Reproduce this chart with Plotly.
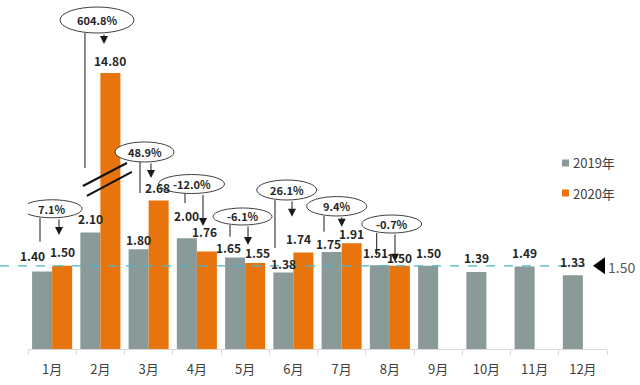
import plotly.graph_objects as go

# ---------------- data ----------------
months = ["1月", "2月", "3月", "4月", "5月", "6月", "7月", "8月", "9月", "10月", "11月", "12月"]
v2019 = [1.40, 2.10, 1.80, 2.00, 1.65, 1.38, 1.75, 1.51, 1.50, 1.39, 1.49, 1.33]
v2020 = [1.50, 14.80, 2.68, 1.76, 1.55, 1.74, 1.91, 1.50, None, None, None, None]
yoy = ["7.1%", "604.8%", "48.9%", "-12.0%", "-6.1%", "26.1%", "9.4%", "-0.7%"]
series_names = ["2019年", "2020年"]
ref_value = 1.50
ref_label = "1.50"

# ---------------- styles / geometry ----------------
GRAY = "#8A9A98"
ORANGE = "#E8740D"
TEXT = "#262626"
FONT = "Noto Sans CJK SC"
W, H = 640, 385
ML, MR, MT, MB = 28, 33, 0, 36
PLOT_W = W - ML - MR
PLOT_H = H - MT - MB
BAR_H = 276                      # pixel height of the (broken) bar axis
Y_TOP = 4.98                     # visible top of the broken axis
SCALE = BAR_H / Y_TOP            # px per unit
Y2_TOP = PLOT_H / SCALE          # overlay axis for call-outs (same scale)
BARGAP = 0.17
OFF = (1 - BARGAP) / 4           # centre offset of each bar in a group

# call-out placement (axis units; ellipse radii in px)
ell_x = [0.0, 0.93, 1.915, 2.889, 3.946, 4.862, 5.898, 7.038]
ell_y = [2.53, 5.936, 3.555, 2.977, 2.391, 2.869, 2.575, 2.255]
ell_rx = [30, 37, 29.5, 33, 29.5, 30, 30, 30]
ell_ry = [9, 13, 10, 9.5, 8.5, 10, 9.7, 9]
line_x = [-0.251, 0.681, 1.821, 2.754, 3.687, 4.619, 5.635, 6.727]
line_end = [1.936, 3.266, 2.815, 2.634, 2.026, 1.822, 2.117, 1.696]
arrow_x = [0.142, 1.075, 2.049, 3.127, 4.060, 4.972, 6.002, 7.106]
arrow_end = [2.057, 5.503, 3.086, 2.219, 1.877, 2.387, 2.207, 1.575]
# value label offsets (px)
off19 = [(-10, 16), (0, 14), (0, 10), (0, 23), (-7, 10), (0, 9.5), (-3, 9), (-4, 12.6),
         (0, 13), (0, 14), (0, 14), (0, 14)]
off20 = [(0, 14), (0, 13), (-1, 12.5), (-2, 19.5), (2.6, 10.4), (-5, 13.6), (0, 10), (0, 8)]

fig = go.Figure()
fig.add_trace(go.Bar(x=months, y=v2019, name=series_names[0], marker_color=GRAY,
                     marker_line_width=0, showlegend=False))
fig.add_trace(go.Bar(x=months, y=v2020, name=series_names[1], marker_color=ORANGE,
                     marker_line_width=0, showlegend=False))
# helper trace so the full-height overlay subplot exists
fig.add_trace(go.Scatter(x=[months[0]], y=[None], yaxis="y2", showlegend=False,
                         hoverinfo="skip", mode="markers"))

ann = []
shapes = []

# value labels
for i, v in enumerate(v2019):
    dx, dy = off19[i]
    ann.append(dict(x=i - OFF, y=min(v, Y_TOP), xref="x", yref="y2", text=f"<b>{v:.2f}</b>",
                    showarrow=False, xshift=dx, yshift=dy, yanchor="middle",
                    font=dict(size=12, color=TEXT, family=FONT)))
for i, v in enumerate(v2020):
    if v is None:
        continue
    dx, dy = off20[i]
    ann.append(dict(x=i + OFF, y=min(v, Y_TOP), xref="x", yref="y2", text=f"<b>{v:.2f}</b>",
                    showarrow=False, xshift=dx, yshift=dy, yanchor="middle",
                    font=dict(size=12, color=TEXT, family=FONT)))

# call-outs
for k, t in enumerate(yoy):
    top = ell_y[k] - ell_ry[k] / SCALE
    shapes.append(dict(type="line", xref="x", yref="y2", x0=line_x[k], x1=line_x[k],
                       y0=top, y1=line_end[k], line=dict(color="#1a1a1a", width=1), layer="above"))
    ann.append(dict(x=arrow_x[k], y=arrow_end[k], ax=arrow_x[k], ay=top, xref="x", yref="y2",
                    axref="x", ayref="y2", text="", showarrow=True, arrowhead=2, arrowsize=1.6,
                    arrowwidth=1, arrowcolor="#1a1a1a", standoff=0, startstandoff=0))
    shapes.append(dict(type="circle", xref="x", yref="y2", xsizemode="pixel", ysizemode="pixel",
                       xanchor=ell_x[k], yanchor=ell_y[k], x0=-ell_rx[k], x1=ell_rx[k],
                       y0=-ell_ry[k], y1=ell_ry[k], fillcolor="white",
                       line=dict(color="#404040", width=1), layer="above"))
    ann.append(dict(x=ell_x[k], y=ell_y[k], xref="x", yref="y2", text=f"<b>{t}</b>",
                    showarrow=False, font=dict(size=11, color=TEXT, family=FONT)))

# axis-break marks on the 2月 bar
for (xa, ya, xb, yb) in [(0.637, 2.941, 1.549, 3.356), (0.720, 2.761, 1.653, 3.194)]:
    shapes.append(dict(type="line", xref="x", yref="y2", x0=xa, y0=ya, x1=xb, y1=yb,
                       line=dict(color="#111111", width=2), layer="above"))

# reference line 1.50
shapes.append(dict(type="line", xref="paper", yref="y", x0=-ML / PLOT_W, x1=(590 - ML) / PLOT_W,
                   y0=ref_value, y1=ref_value, line=dict(color="#4BB5CC", width=1.2, dash="dash"),
                   layer="above"))
shapes.append(dict(type="path", xref="paper", yref="y", xsizemode="pixel", ysizemode="pixel",
                   xanchor=(593 - ML) / PLOT_W, yanchor=ref_value,
                   path="M0,0 L12,8.5 L12,-8.5 Z", fillcolor="black", line=dict(width=0)))
ann.append(dict(x=(606 - ML) / PLOT_W, y=ref_value, xref="paper", yref="y", text=ref_label,
                showarrow=False, xanchor="left", yanchor="middle", yshift=-1,
                font=dict(size=14, color="#595959", family=FONT)))

# legend
for name, col, py in [(series_names[0], GRAY, 163), (series_names[1], ORANGE, 193)]:
    yc = (PLOT_H - py) / PLOT_H
    shapes.append(dict(type="rect", xref="paper", yref="paper",
                       x0=(562 - ML) / PLOT_W, x1=(569 - ML) / PLOT_W,
                       y0=yc - 3.5 / PLOT_H, y1=yc + 3.5 / PLOT_H,
                       fillcolor=col, line=dict(width=0)))
    ann.append(dict(x=(571 - ML) / PLOT_W, y=yc, xref="paper", yref="paper", text=name,
                    showarrow=False, xanchor="left", yanchor="middle",
                    font=dict(size=13, color="#404040", family=FONT)))

fig.update_layout(
    width=W, height=H, margin=dict(l=ML, r=MR, t=MT, b=MB),
    paper_bgcolor="white", plot_bgcolor="rgba(0,0,0,0)",
    barmode="group", bargap=BARGAP, bargroupgap=0,
    font=dict(family=FONT, color="#404040"),
    xaxis=dict(type="category", range=[-0.5, len(months) - 0.5], autorange=False,
               showline=True, linecolor="#D9D9D9", linewidth=1,
               ticks="outside", tickson="boundaries", ticklen=5, tickcolor="#D9D9D9",
               ticklabelstandoff=8,
               tickfont=dict(size=13, color="#404040", family=FONT), showgrid=False,
               anchor="y", fixedrange=True),
    yaxis=dict(domain=[0, BAR_H / PLOT_H], range=[0, Y_TOP], visible=False, fixedrange=True),
    yaxis2=dict(domain=[0, 1], range=[0, Y2_TOP], visible=False, anchor="x", fixedrange=True),
    shapes=shapes, annotations=ann, showlegend=False,
)

fig.write_html("out.html", config={"displayModeBar": False},
               post_script="document.body.style.margin='0';document.body.style.overflow='hidden';")
